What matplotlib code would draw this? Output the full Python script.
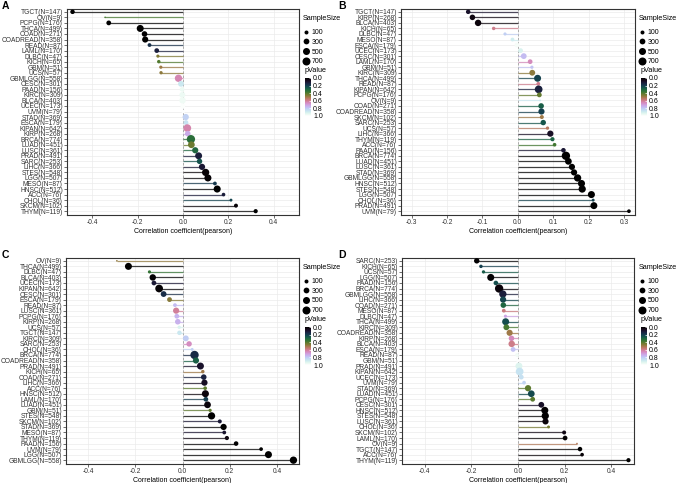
# ---------------------------------------- Import Libraries ---------------------------------------- #
import math
import numpy as np
import matplotlib
matplotlib.use("Agg")
import matplotlib.pyplot as plt
from matplotlib.lines import Line2D
from matplotlib.cm import ScalarMappable
from matplotlib.colors import Normalize

plt.rcParams['font.family'] = ['Liberation Sans', 'DejaVu Sans']
plt.rcParams['axes.unicode_minus'] = False

# ---------- Sample sizes per cancer ---------- #
cancer_names = ["TGCT", "OV", "PCPG", "THCA", "COAD", "COADREAD", "READ", "LAML", "DLBC", "KICH",
                "GBM", "UCS", "GBMLGG", "CESC", "PAAD", "KIRC", "BLCA", "UCEC", "UVM", "STAD",
                "ESCA", "KIPAN", "KIRP", "BRCA", "LUAD", "LUSC", "PRAD", "SARC", "LIHC", "STES",
                "LGG", "MESO", "HNSC", "ACC", "CHOL", "SKCM", "THYM"]
sample_sizes = [147, 9, 176, 499, 271, 358, 87, 170, 47, 65,
                51, 57, 558, 301, 156, 309, 403, 173, 79, 369,
                179, 642, 268, 774, 451, 361, 491, 253, 366, 548,
                507, 87, 512, 76, 36, 102, 119]

# ---------- Panel A ---------- #
cancers_a = ["TGCT", "OV", "PCPG", "THCA", "COAD", "COADREAD", "READ", "LAML", "DLBC", "KICH",
             "GBM", "UCS", "GBMLGG", "CESC", "PAAD", "KIRC", "BLCA", "UCEC", "UVM", "STAD",
             "ESCA", "KIPAN", "KIRP", "BRCA", "LUAD", "LUSC", "PRAD", "SARC", "LIHC", "STES",
             "LGG", "MESO", "HNSC", "ACC", "CHOL", "SKCM", "THYM"]
r_a = [-0.488, -0.344, -0.328, -0.189, -0.170, -0.167, -0.148, -0.116, -0.111, -0.107,
       -0.098, -0.097, -0.020, -0.009, -0.004, -0.003, -0.002, -0.001, 0.001, 0.012,
       0.013, 0.019, 0.021, 0.035, 0.037, 0.054, 0.069, 0.073, 0.084, 0.100,
       0.110, 0.141, 0.151, 0.179, 0.212, 0.234, 0.321]

# ---------- Panel B ---------- #
cancers_b = ["TGCT", "KIRP", "BLCA", "KICH", "DLBC", "MESO", "ESCA", "UCEC", "CESC", "LAML",
             "GBM", "KIRC", "THCA", "READ", "KIPAN", "PCPG", "OV", "COAD", "COADREAD", "SKCM",
             "SARC", "UCS", "LIHC", "THYM", "ACC", "PAAD", "BRCA", "LUAD", "LUSC", "STAD",
             "GBMLGG", "HNSC", "STES", "LGG", "CHOL", "PRAD", "UVM"]
r_b = [-0.140, -0.128, -0.112, -0.068, -0.036, -0.015, -0.002, 0.008, 0.017, 0.035,
       0.040, 0.041, 0.056, 0.058, 0.059, 0.061, 0.063, 0.066, 0.067, 0.068,
       0.072, 0.084, 0.092, 0.098, 0.104, 0.129, 0.136, 0.143, 0.153, 0.159,
       0.169, 0.180, 0.182, 0.208, 0.213, 0.215, 0.314]

# ---------- Panel C ---------- #
cancers_c = ["OV", "THCA", "DLBC", "BLCA", "UCEC", "KIPAN", "CESC", "ESCA", "READ", "LUSC",
             "PCPG", "KIRP", "UCS", "TGCT", "KIRC", "SARC", "CHOL", "BRCA", "COADREAD", "PRAD",
             "KICH", "COAD", "LIHC", "ACC", "HNSC", "LAML", "LUAD", "GBM", "STES", "SKCM",
             "STAD", "MESO", "THYM", "PAAD", "UVM", "LGG", "GBMLGG"]
r_c = [-0.278, -0.229, -0.140, -0.126, -0.121, -0.099, -0.080, -0.055, -0.032, -0.027,
       -0.024, -0.020, -0.014, -0.013, 0.014, 0.028, 0.041, 0.051, 0.057, 0.076,
       0.086, 0.090, 0.093, 0.096, 0.097, 0.099, 0.106, 0.117, 0.123, 0.158,
       0.174, 0.177, 0.188, 0.227, 0.333, 0.364, 0.470]

# ---------- Panel D ---------- #
cancers_d = ["SARC", "KICH", "UCS", "LGG", "PAAD", "BRCA", "GBMLGG", "LIHC", "COAD", "MESO",
             "DLBC", "THCA", "KIRC", "COADREAD", "KIRP", "BLCA", "ESCA", "READ", "GBM", "PRAD",
             "KIPAN", "UCEC", "UVM", "STAD", "LUAD", "PCPG", "CESC", "HNSC", "STES", "LUSC",
             "CHOL", "SKCM", "LAML", "OV", "TGCT", "ACC", "THYM"]
r_d = [-0.177, -0.159, -0.148, -0.117, -0.095, -0.081, -0.065, -0.064, -0.063, -0.061,
       -0.054, -0.053, -0.050, -0.036, -0.028, -0.027, -0.021, -0.004, -0.001, 0.004,
       0.007, 0.014, 0.026, 0.043, 0.057, 0.063, 0.100, 0.115, 0.117, 0.118,
       0.131, 0.198, 0.202, 0.253, 0.266, 0.275, 0.474]

ticks_wide = [-0.4, -0.2, 0.0, 0.2, 0.4]
ticks_narrow = [-0.3, -0.2, -0.1, 0.0, 0.1, 0.2, 0.3]
size_breaks = [100, 300, 500, 700]
pvalue_ticks = [0.0, 0.2, 0.4, 0.6, 0.8, 1.0]

# ---------- Helpers ---------- #
W, H = 676, 483
N_of = dict(zip(cancer_names, sample_sizes))
n_lo, n_hi = min(sample_sizes), max(sample_sizes)
cmap = plt.get_cmap("cubehelix")


def px_rect(l, t, r, b):
    return [l / W, 1 - b / H, (r - l) / W, (b - t) / H]


def pvalue(r, n):
    # Fisher z test for pearson correlation
    z = abs(math.atanh(r)) * math.sqrt(n - 3)
    return math.erfc(z / math.sqrt(2))


def dot_diam(n):
    # area scale like ggplot's scale_size
    x = max((n - n_lo) / (n_hi - n_lo), 0)
    return 1.2 + math.sqrt(x) * (6.0 - 1.2)


fig = plt.figure(figsize=(W / 100, H / 100), dpi=100)

panels = [
    ("A", cancers_a, r_a, ticks_wide, (67, 8.5, 299, 214.5), 0, 0),
    ("B", cancers_b, r_b, ticks_narrow, (401, 8.5, 634.5, 214.5), 336, 0),
    ("C", cancers_c, r_c, ticks_wide, (66, 257.5, 299, 463.5), 0, 249),
    ("D", cancers_d, r_d, ticks_wide, (402, 257.5, 634, 463.5), 336, 249),
]

for letter, cancers, rs, ticks, rect, dx, dy in panels:
    ax = fig.add_axes(px_rect(*rect))
    ns = [N_of[c] for c in cancers]
    ps = [pvalue(r, n) for r, n in zip(rs, ns)]
    y = np.arange(len(cancers))

    # ---------- Lollipops ---------- #
    ax.axvline(0, color="#A0A0A0", ls=(0, (3, 2)), lw=0.6, zorder=1)
    ax.hlines(y, 0, rs, colors=cmap(ps), lw=0.9, alpha=0.75, zorder=2)
    ax.scatter(rs, y, s=[dot_diam(n) ** 2 for n in ns], c=ps, cmap=cmap, vmin=0, vmax=1,
               linewidths=0, zorder=3)

    m = max(abs(v) for v in rs) * 1.05
    ax.set_xlim(-m, m)
    ax.set_ylim(len(cancers) - 0.4, -0.6)
    ax.set_yticks(y, [f"{c}(N={N_of[c]})" for c in cancers])
    ax.set_xticks(ticks, [f"{t:.1f}" for t in ticks])
    ax.grid(True, color="#EBEBEB", lw=0.5)
    ax.set_axisbelow(True)
    for s in ax.spines.values():
        s.set_color("#333333")
        s.set_linewidth(0.8)
    ax.tick_params(labelsize=4.8, length=2, width=0.5, pad=1, color="#333333",
                   labelcolor="#333333")
    ax.set_xlabel("Correlation coefficient(pearson)", fontsize=5, labelpad=1.5)

    fig.text((2 + dx) / W, 1 - (1 + dy) / H, letter, fontsize=7.5, fontweight="bold",
             va="top", ha="left")

    # ---------- Size legend ---------- #
    handles = [Line2D([], [], marker="o", ls="", color="black", markeredgewidth=0,
                      markersize=dot_diam(b)) for b in size_breaks]
    leg = ax.legend(handles, [str(b) for b in size_breaks], title="SampleSize",
                    loc="upper left", bbox_to_anchor=((303 + dx) / W, 1 - (15 + dy) / H),
                    bbox_transform=fig.transFigure, frameon=False, fontsize=5,
                    title_fontsize=5.2, handlelength=0.8, handletextpad=0.4,
                    labelspacing=0.4, borderpad=0, borderaxespad=0, alignment="left")
    leg._legend_box.sep = 5

    # ---------- pValue colorbar ---------- #
    cax = fig.add_axes(px_rect(305 + dx, 78 + dy, 311 + dx, 116 + dy))
    cb = fig.colorbar(ScalarMappable(Normalize(0, 1), cmap=cmap), cax=cax)
    cb.outline.set_visible(False)
    cax.invert_yaxis()
    cb.set_ticks(pvalue_ticks, labels=[f"{t:.1f}" for t in pvalue_ticks])
    cax.tick_params(labelsize=5, length=1.5, width=0.5, color="white", direction="in", pad=1.5)
    cax.set_title("pValue", fontsize=5.2, loc="left", pad=4.5)

fig.savefig("out.png", dpi=100)
